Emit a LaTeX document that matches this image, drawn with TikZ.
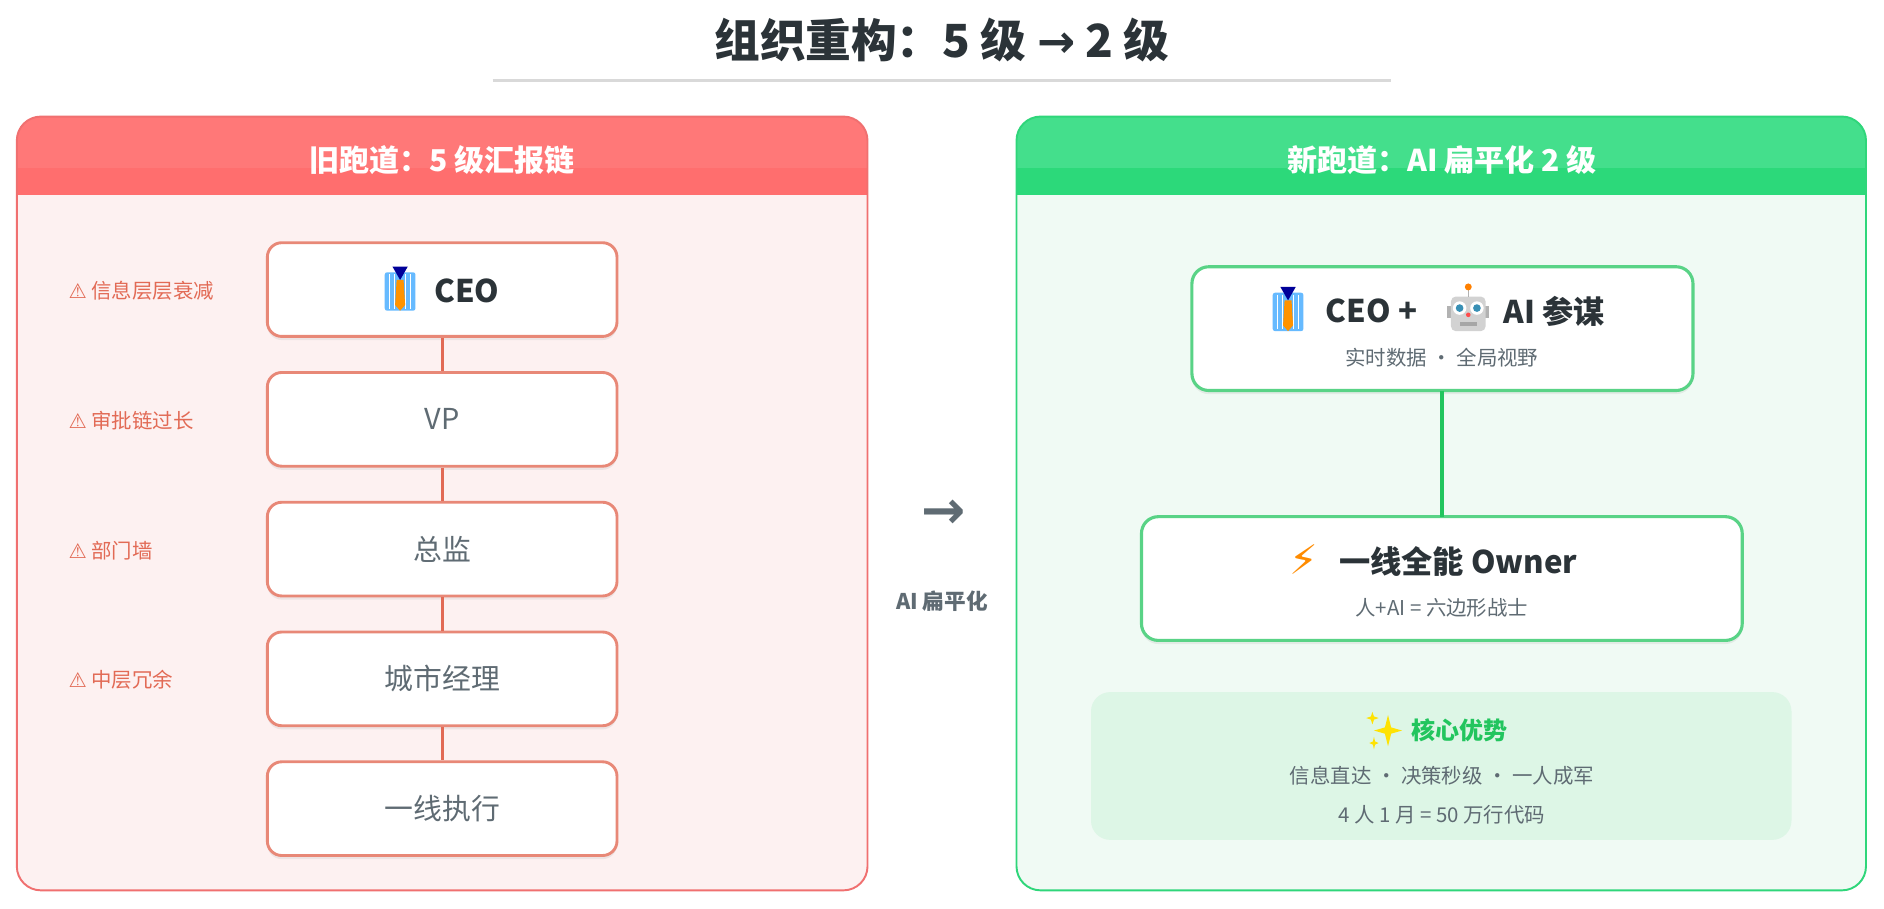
\documentclass[tikz,border=0pt]{standalone}
\usepackage{fontspec}
\setmainfont{Noto Sans CJK SC}
\newfontfamily\dejavu{DejaVu Sans}
\usetikzlibrary{shadows}
\definecolor{redb}{HTML}{F07070}
\definecolor{redf}{HTML}{FDF1F1}
\definecolor{redh}{HTML}{FF7878}
\definecolor{redl}{HTML}{E26A55}
\definecolor{grnb}{HTML}{2FD67A}
\definecolor{grnf}{HTML}{F0FAF4}
\definecolor{grnh}{HTML}{44DF8C}
\definecolor{grnh2}{HTML}{2CD97A}
\definecolor{grnl}{HTML}{22C55E}
\definecolor{txt}{HTML}{2B3338}
\definecolor{gtxt}{HTML}{5F6B73}
\definecolor{advf}{HTML}{DDF6E6}
\tikzset{
 x=0.5pt,y=-0.5pt,
 panel/.style={rounded corners=10pt,line width=0.8pt},
 lbox/.style={draw=redl!80,line width=1.2pt,fill=white,rounded corners=6pt,minimum width=145.5pt,minimum height=39pt,font=\fontsize{12}{14}\selectfont,text=gtxt,drop shadow={shadow xshift=0pt,shadow yshift=-1.5pt,opacity=0.12}},
 rbox/.style={draw=grnl!75,line width=1.3pt,fill=white,rounded corners=7pt,drop shadow={shadow xshift=0pt,shadow yshift=-1.5pt,opacity=0.12}},
 warn/.style={anchor=west,text=redl,font=\fontsize{8.5}{10}\selectfont},
 htxt/.style={text=white,font=\bfseries\fontsize{12.5}{14}\selectfont},
 big/.style={text=txt,font=\bfseries\fontsize{13}{15}\selectfont,anchor=west,inner sep=0pt},
 icon/.style={scale=1.6},
 tie/.pic={
  \fill[blue!45!cyan!60!white,rounded corners=1pt] (-8,-9) rectangle (8,11);
  \foreach \i in {-5.5,-3,3,5.5} \draw[white,line width=0.4pt] (\i,-8) -- (\i,10);
  \fill[blue!60!black] (-4,-12) -- (4,-12) -- (0,-5) -- cycle;
  \fill[orange!85!yellow] (-1.8,-5) -- (1.8,-5) -- (2.6,8) -- (0,11) -- (-2.6,8) -- cycle;},
 robot/.pic={
  \fill[gray!60] (-11,-2) rectangle (11,4);
  \fill[gray!35,rounded corners=2pt] (-9,-7) rectangle (9,11);
  \draw[gray!60,line width=0.6pt] (0,-7) -- (0,-11);
  \fill[orange] (0,-12) circle (1.8);
  \fill[white] (-4.5,-1) circle (3.5) (4.5,-1) circle (3.5);
  \fill[cyan!70!black] (-4.5,-1) circle (2) (4.5,-1) circle (2);
  \fill[gray!70] (-4.5,6) rectangle (4.5,8.5);
  \fill[red!70] (0,2.5) circle (1.2);},
 sparkle/.pic={
  \fill[yellow!85!orange] (4,-10) -- (6,-2) -- (13,0) -- (6,2) -- (4,10) -- (2,2) -- (-5,0) -- (2,-2) -- cycle;
  \fill[yellow!85!orange] (-6,-12) -- (-5,-9) -- (-2,-8) -- (-5,-7) -- (-6,-4) -- (-7,-7) -- (-10,-8) -- (-7,-9) -- cycle;
  \fill[yellow!85!orange] (-5,4) -- (-4.3,7) -- (-2,8) -- (-4.3,9) -- (-5,12) -- (-5.7,9) -- (-8,8) -- (-5.7,7) -- cycle;},
}
\begin{document}
\begin{tikzpicture}
\useasboundingbox[fill=white] (0,0) rectangle (1568,756);
% title
\node[text=txt,font=\bfseries\fontsize{19}{22}\selectfont] (title) at (784,33) {组织重构：5 级 {\dejavu\bfseries →} 2 级};
\draw[gray!30,line width=1pt] (410,67) -- (1158,67);
% left panel
\fill[redf,panel] (14,97) rectangle (722,741);
\begin{scope}
 \clip[rounded corners=10pt] (14,97) rectangle (722,741);
 \fill[redh] (14,97) rectangle (722,162);
 \fill[redh!92!red] (14,140) rectangle (722,162);
\end{scope}
\draw[redb,panel] (14,97) rectangle (722,741);
\node[htxt] (lh) at (368,133) {旧跑道：5 级汇报链};
\node[lbox] (l1) at (368,241) {};
\pic[icon] at (333,241) {tie};
\node[big] (l1t) at (361,242) {CEO};
\node[lbox] (l2) at (368,349) {VP};
\node[lbox] (l3) at (368,457) {总监};
\node[lbox] (l4) at (368,565) {城市经理};
\node[lbox] (l5) at (368,673) {一线执行};
\foreach \a/\b in {l1/l2,l2/l3,l3/l4,l4/l5} \draw[redl,line width=1.2pt] (\a) -- (\b);
\node[warn] (w1) at (50,242) {{\dejavu ⚠} 信息层层衰减};
\node[warn] (w2) at (50,350) {{\dejavu ⚠} 审批链过长};
\node[warn] (w3) at (50,458) {{\dejavu ⚠} 部门墙};
\node[warn] (w4) at (50,566) {{\dejavu ⚠} 中层冗余};
% middle
\node[text=gtxt,font=\dejavu\bfseries\fontsize{22}{24}\selectfont] (arr) at (785,428) {→};
\node[text=gtxt,font=\bfseries\fontsize{9}{11}\selectfont] (mid) at (784,500) {AI 扁平化};
% right panel
\fill[grnf,panel] (846,97) rectangle (1553,741);
\begin{scope}
 \clip[rounded corners=10pt] (846,97) rectangle (1553,741);
 \fill[grnh] (846,97) rectangle (1553,162);
 \fill[grnh2] (846,140) rectangle (1553,162);
\end{scope}
\draw[grnb,panel] (846,97) rectangle (1553,741);
\node[htxt] (rh) at (1200,133) {新跑道：AI 扁平化 2 级};
\draw[rbox] (992,222) rectangle (1409,325);
\coordinate (r1b) at (1200,325);
\pic[icon] at (1072,258) {tie};
\node[big] (r1a) at (1103,259) {CEO +};
\pic[icon] at (1222,258) {robot};
\node[big] (r1c) at (1251,259) {AI 参谋};
\node[text=gtxt,font=\fontsize{8.5}{10}\selectfont] (r1s) at (1200,298) {实时数据 · 全局视野};
\draw[rbox] (950,430) rectangle (1450,533);
\coordinate (r2t) at (1200,430);
\draw[grnl,line width=1.5pt] (r1b) -- (r2t);
\node[text=orange!90!yellow,font=\dejavu\fontsize{17}{19}\selectfont] (bolt) at (1085,466) {⚡};
\node[big] (r2) at (1114,467) {一线全能 Owner};
\node[text=gtxt,font=\fontsize{8.5}{10}\selectfont] (r2s) at (1200,506) {人+AI = 六边形战士};
\fill[advf,rounded corners=8pt] (908,576) rectangle (1491,699);
\pic[scale=1.3] at (1150,608) {sparkle};
\node[text=grnl,font=\bfseries\fontsize{10}{12}\selectfont,anchor=west,inner sep=0pt] (adv) at (1174,608) {核心优势};
\node[text=gtxt,font=\fontsize{8.5}{10}\selectfont] (a1) at (1200,646) {信息直达 · 决策秒级 · 一人成军};
\node[text=gtxt,font=\fontsize{8.5}{10}\selectfont] (a2) at (1200,678) {4 人 1 月 = 50 万行代码};
\end{tikzpicture}
\end{document}
